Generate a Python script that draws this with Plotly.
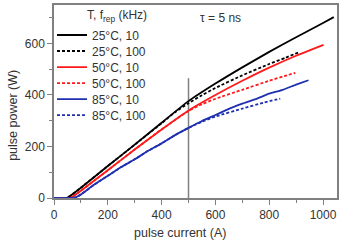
import plotly.graph_objects as go

# ---- data ----
x_25_10 = [0, 46, 60, 100, 200, 300, 400, 500, 600, 700, 800, 900, 1000, 1040]
y_25_10 = [0, 0, 8, 40, 124, 207, 292, 376, 444, 507, 567, 624, 679, 702]

x_25_100 = [0, 46, 60, 100, 200, 300, 400, 450, 500, 550, 600, 700, 800, 860, 909]
y_25_100 = [0, 0, 8, 40, 124, 207, 290, 333, 368, 399, 427, 476, 520, 544, 565]

x_50_10 = [0, 58, 70, 100, 200, 300, 400, 500, 600, 700, 800, 900, 1002]
y_50_10 = [0, 0, 6, 28, 108, 188, 266, 340, 400, 455, 506, 552, 594]

x_50_100 = [0, 58, 70, 100, 200, 300, 400, 500, 550, 600, 700, 800, 850, 897]
y_50_100 = [0, 0, 6, 28, 108, 188, 266, 338, 364, 385, 420, 455, 471, 486]

x_85_10 = [0, 72, 85, 100, 150, 200, 250, 300, 350, 400, 450, 500, 550, 600, 650, 700, 750, 800, 850, 900, 946]
y_85_10 = [0, 0, 5, 14, 52, 86, 120, 150, 183, 212, 244, 272, 299, 322, 346, 366, 384, 405, 420, 440, 457]

x_85_100 = [0, 72, 85, 100, 150, 200, 250, 300, 350, 400, 450, 500, 550, 600, 700, 780, 841]
y_85_100 = [0, 0, 5, 14, 52, 86, 120, 150, 183, 212, 244, 272, 296, 316, 347, 370, 386]

labels = ["25°C, 10", "25°C, 100", "50°C, 10", "50°C, 100", "85°C, 10", "85°C, 100"]
colors = ["#000000", "#000000", "#ff1a1a", "#ff1a1a", "#1f2fb0", "#1f2fb0"]
dashes = ["solid", "3px,2px", "solid", "3px,2px", "solid", "3px,2px"]
legend_title = "T, f<sub>rep</sub> (kHz)"
note_text = "τ = 5 ns"
x_title = "pulse current (A)"
y_title = "pulse power (W)"

vline_x = [500, 500]
vline_y = [0, 465]

xs = [x_25_10, x_25_100, x_50_10, x_50_100, x_85_10, x_85_100]
ys = [y_25_10, y_25_100, y_50_10, y_50_100, y_85_10, y_85_100]

FONT = "Arial, Liberation Sans, sans-serif"
AXC = "#808080"
TXT = "#333333"

# plot area geometry (pixels) used to place legend rows and titles
L, R, T, B = 54, 5, 3, 46
W, H = 342, 244
PW = W - L - R
PH = H - T - B


def py_to_paper(py):
    return 1 - (py - T) / PH


def px_to_paper(px):
    return (px - L) / PW


row_centers = [33.3, 49.5, 65.7, 81.9, 98.1, 114.3]

fig = go.Figure()
fig.add_trace(go.Scatter(x=vline_x, y=vline_y, mode="lines",
                         line=dict(color=AXC, width=1.5), showlegend=False,
                         hoverinfo="skip"))
legend_layout = {}
for i, (x, y, lab, c, d) in enumerate(zip(xs, ys, labels, colors, dashes)):
    lname = "legend" if i == 0 else f"legend{i + 1}"
    fig.add_trace(go.Scatter(x=x, y=y, mode="lines", name=lab, legend=lname,
                             line=dict(color=c, width=1.8, dash=d,
                                       shape="spline", smoothing=0.5)))
    legend_layout[lname] = dict(
        x=-0.007, y=py_to_paper(row_centers[i]), xanchor="left", yanchor="middle",
        bgcolor="rgba(0,0,0,0)", itemwidth=30,
        font=dict(family=FONT, size=12, color=TXT))

axis_common = dict(
    showline=True, linecolor=AXC, linewidth=1.5, mirror=True,
    ticks="outside", ticklen=5, tickwidth=1.2, tickcolor=AXC,
    showgrid=False, zeroline=False,
    tickfont=dict(family=FONT, size=12, color=TXT),
    minor=dict(ticks="outside", ticklen=3, tickwidth=1.2, tickcolor=AXC, dtick=100),
)

fig.update_xaxes(range=[0, 1052], dtick=200, **axis_common)
fig.update_yaxes(range=[0, 749], dtick=200, **axis_common)

fig.add_annotation(text=legend_title, xref="paper", yref="paper",
                   x=px_to_paper(85), y=py_to_paper(14), xanchor="left", yanchor="middle",
                   showarrow=False, font=dict(family=FONT, size=12, color=TXT))
fig.add_annotation(text=note_text, xref="paper", yref="paper",
                   x=px_to_paper(198), y=py_to_paper(16), xanchor="left", yanchor="middle",
                   showarrow=False, font=dict(family=FONT, size=12, color=TXT))
fig.add_annotation(text=x_title, xref="paper", yref="paper",
                   x=px_to_paper(180), y=py_to_paper(233), xanchor="center", yanchor="middle",
                   showarrow=False, font=dict(family=FONT, size=12.5, color=TXT))
fig.add_annotation(text=y_title, xref="paper", yref="paper", textangle=-90,
                   x=px_to_paper(13), y=py_to_paper(115), xanchor="center", yanchor="middle",
                   showarrow=False, font=dict(family=FONT, size=12.5, color=TXT))

fig.update_layout(
    width=W, height=H,
    margin=dict(l=L, r=R, t=T, b=B),
    plot_bgcolor="white", paper_bgcolor="white",
    font=dict(family=FONT, size=12, color=TXT),
    **legend_layout,
)

fig.write_html("out.html", config={"displayModeBar": False},
               post_script="document.body.style.margin='0';document.body.style.overflow='hidden';")
